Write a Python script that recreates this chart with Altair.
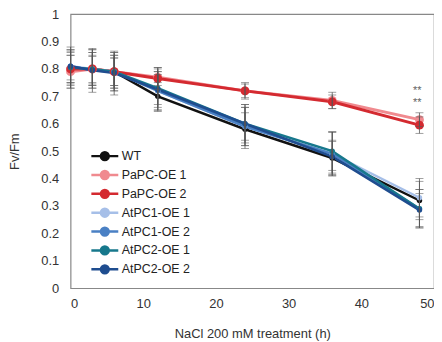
import altair as alt
import pandas as pd

hours = [0, 3, 6, 12, 24, 36, 48]
series = ["WT", "PaPC-OE 1", "PaPC-OE 2", "AtPC1-OE 1", "AtPC1-OE 2", "AtPC2-OE 1", "AtPC2-OE 2"]
colors = ["#111111", "#f08a8f", "#d42a30", "#a6bfe8", "#4a80c4", "#17788c", "#1f4d8f"]

wt = [0.800, 0.800, 0.790, 0.700, 0.580, 0.475, 0.320]
papc1 = [0.790, 0.800, 0.790, 0.770, 0.720, 0.685, 0.615]
papc2 = [0.800, 0.800, 0.790, 0.765, 0.720, 0.680, 0.595]
atpc1_1 = [0.810, 0.800, 0.790, 0.720, 0.590, 0.490, 0.330]
atpc1_2 = [0.810, 0.795, 0.790, 0.720, 0.590, 0.490, 0.290]
atpc2_1 = [0.805, 0.800, 0.790, 0.730, 0.600, 0.500, 0.290]
atpc2_2 = [0.810, 0.795, 0.785, 0.725, 0.600, 0.480, 0.285]

err_wt = [0.05, 0.07, 0.07, 0.05, 0.06, 0.06, 0.07]
err_papc1 = [0.06, 0.05, 0.05, 0.03, 0.03, 0.03, 0.025]
err_papc2 = [0.07, 0.06, 0.06, 0.04, 0.025, 0.025, 0.03]
err_atpc1_1 = [0.06, 0.07, 0.07, 0.07, 0.07, 0.08, 0.07]
err_atpc1_2 = [0.05, 0.05, 0.06, 0.06, 0.08, 0.08, 0.07]
err_atpc2_1 = [0.06, 0.06, 0.05, 0.06, 0.07, 0.07, 0.07]
err_atpc2_2 = [0.07, 0.08, 0.08, 0.08, 0.06, 0.06, 0.06]

x_ticks = [0, 10, 20, 30, 40, 50]
y_ticks = [0, 0.1, 0.2, 0.3, 0.4, 0.5, 0.6, 0.7, 0.8, 0.9, 1]

values = [wt, papc1, papc2, atpc1_1, atpc1_2, atpc2_1, atpc2_2]
errors = [err_wt, err_papc1, err_papc2, err_atpc1_1, err_atpc1_2, err_atpc2_1, err_atpc2_2]
sizes = [30, 80, 80, 30, 30, 30, 30]
widths = [2.5, 3, 3, 2.5, 2.5, 2.5, 2.5]

star_x = [47.7, 47.7]
star_y = [0.718, 0.674]
star_text = ["**", "**"]

rows = []
for s, vals, errs, sz, w in zip(series, values, errors, sizes, widths):
    for h, v, e in zip(hours, vals, errs):
        rows.append({"series": s, "hour": h, "fv": v, "lo": v - e, "hi": v + e,
                     "size": sz, "width": w})
df = pd.DataFrame(rows)
stars = pd.DataFrame({"x": star_x, "y": star_y, "t": star_text})

xs = alt.Scale(domain=[0, 50], nice=False)
ys = alt.Scale(domain=[0, 1], nice=False)
cs = alt.Scale(domain=series, range=colors)

x_axis = alt.Axis(values=x_ticks, labelOverlap=False)
y_axis = alt.Axis(values=y_ticks, labelOverlap=False,
                  labelExpr="datum.value == 0 ? '0' : datum.value == 1 ? '1' : format(datum.value, '.1f')")


def X(field):
    return alt.X(field, scale=xs, axis=x_axis, title="NaCl 200 mM treatment (h)")


def Y(field):
    return alt.Y(field, scale=ys, axis=y_axis, title="Fv/Fm")


legend_path = "M-1.55,0H1.55M-0.45,0A0.45,0.45 0 1,0 0.45,0A0.45,0.45 0 1,0 -0.45,0Z"

base = alt.Chart(df)

lines = base.mark_line().encode(
    x=X("hour:Q"),
    y=Y("fv:Q"),
    color=alt.Color("series:N", scale=cs, sort=series,
                    legend=alt.Legend(title=None, orient="none", legendX=24.5, legendY=133,
                                      symbolType=legend_path, symbolSize=306,
                                      symbolStrokeWidth=2.5, labelFontSize=12.5,
                                      labelFont="Liberation Sans", labelColor="#222",
                                      labelOffset=7, rowPadding=0, symbolOffset=0)),
    strokeWidth=alt.StrokeWidth("width:Q", scale=None),
    detail="series:N",
)

points = base.mark_point(filled=True, opacity=1).encode(
    x=X("hour:Q"),
    y=Y("fv:Q"),
    color=alt.Color("series:N", scale=cs, sort=series),
    size=alt.Size("size:Q", scale=None, legend=None),
)

rules = base.mark_rule(color="#555", strokeWidth=0.8).encode(
    x=X("hour:Q"),
    y=Y("lo:Q"),
    y2="hi:Q",
)
caps_lo = base.mark_tick(color="#555", thickness=0.8, size=8, orient="horizontal").encode(
    x=X("hour:Q"), y=Y("lo:Q"))
caps_hi = base.mark_tick(color="#555", thickness=0.8, size=8, orient="horizontal").encode(
    x=X("hour:Q"), y=Y("hi:Q"))

star_marks = alt.Chart(stars).mark_text(color="#666", fontSize=11, font="Liberation Sans").encode(
    x=X("x:Q"), y=Y("y:Q"), text="t:N")

chart = alt.layer(lines, points, rules, caps_lo, caps_hi, star_marks).properties(
    width=366, height=276,
    autosize=alt.AutoSizeParams(type="none"),
    padding={"left": 63, "top": 5, "right": 0, "bottom": 52},
).configure_view(
    stroke="#888", strokeWidth=1.2
).configure_axis(
    domain=False, ticks=False, grid=False,
    labelFont="Liberation Sans", labelFontSize=13, labelColor="#333",
    titleFont="Liberation Sans", titleFontSize=13, titleFontWeight="normal", titleColor="#333",
).configure_axisX(
    labelPadding=9, titlePadding=18
).configure_axisY(
    labelPadding=12, titlePadding=19
)

chart.save("out.html", embed_options={"renderer": "svg", "actions": False})
